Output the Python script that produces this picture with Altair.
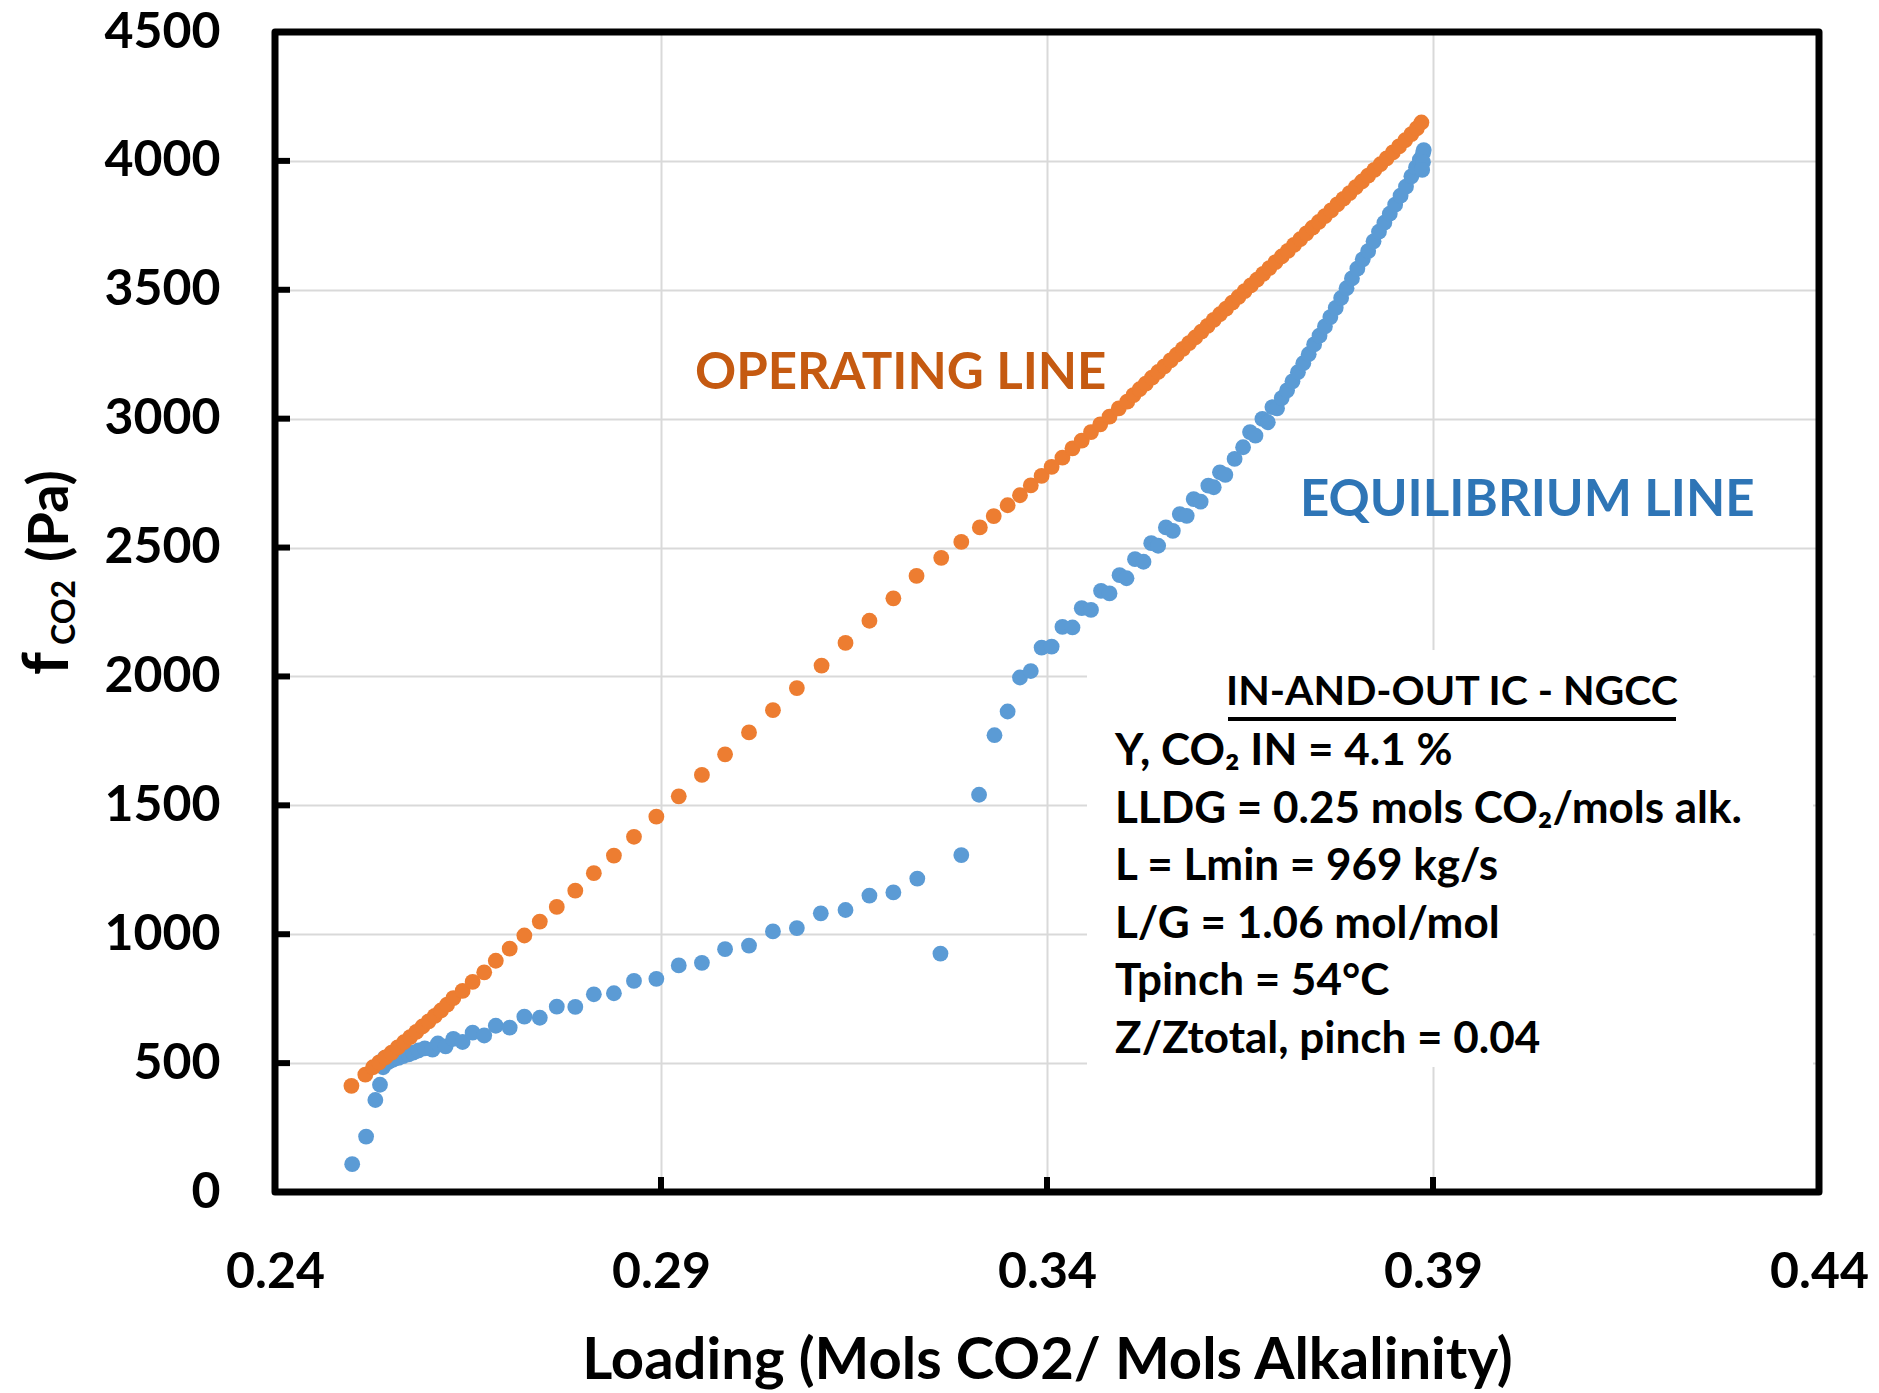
import altair as alt
import pandas as pd

# ---------------- data ----------------
op_x = [0.2499, 0.2517, 0.2527, 0.2535, 0.2543, 0.2551, 0.2559, 0.2567, 0.2575, 0.2583,
        0.2591, 0.2599, 0.2607, 0.2615, 0.2623, 0.2631, 0.2643, 0.2656, 0.2671, 0.2686,
        0.2704, 0.2723, 0.2743, 0.2765, 0.2789, 0.2813, 0.2839, 0.2865, 0.2894, 0.2923,
        0.2953, 0.2983, 0.3014, 0.3045, 0.3076, 0.3108, 0.3139, 0.3170, 0.3201, 0.3231,
        0.3263, 0.3289, 0.3313, 0.3331, 0.3349, 0.3365, 0.3379, 0.3393, 0.3406, 0.3420,
        0.3433, 0.3445, 0.3457, 0.3469, 0.3481, 0.3493, 0.3504,
        0.3512, 0.3520, 0.3528, 0.3536, 0.3544, 0.3552, 0.3560, 0.3568, 0.3576, 0.3584,
        0.3592, 0.3600, 0.3608, 0.3616, 0.3624, 0.3632, 0.3640, 0.3648, 0.3656, 0.3664,
        0.3672, 0.3680, 0.3688, 0.3696, 0.3704, 0.3712, 0.3720, 0.3728, 0.3736, 0.3744,
        0.3752, 0.3760, 0.3768, 0.3776, 0.3784, 0.3792, 0.3800, 0.3808, 0.3816, 0.3824,
        0.3832, 0.3840, 0.3848, 0.3856, 0.3864, 0.3872, 0.3879, 0.3885]
op_y = [412, 455, 484, 503, 522, 541, 561, 581, 601, 621,
        642, 662, 683, 704, 727, 752, 780, 815, 852, 897,
        944, 995, 1049, 1106, 1169, 1237, 1305, 1378, 1456, 1535,
        1618, 1698, 1783, 1869, 1955, 2042, 2130, 2216, 2303, 2390,
        2460, 2522, 2578, 2622, 2664, 2703, 2741, 2778, 2813, 2849,
        2885, 2915, 2948, 2978, 3008, 3040, 3066,
        3091, 3114, 3136, 3159, 3181, 3203, 3226, 3248, 3271, 3293,
        3315, 3338, 3360, 3383, 3405, 3427, 3450, 3472, 3495, 3517,
        3539, 3562, 3584, 3607, 3629, 3651, 3674, 3696, 3719, 3741,
        3763, 3786, 3808, 3831, 3853, 3875, 3898, 3920, 3943, 3965,
        3987, 4010, 4033, 4056, 4080, 4104, 4126, 4149]

eq_x = [0.2500, 0.2518, 0.2530, 0.2536, 0.2540, 0.2542, 0.2547, 0.2553, 0.2560, 0.2566,
        0.2573, 0.2579, 0.2586, 0.2594, 0.2604, 0.2611, 0.2621, 0.2631, 0.2643, 0.2656,
        0.2671, 0.2686, 0.2704, 0.2723, 0.2743, 0.2765, 0.2789, 0.2813, 0.2839, 0.2865,
        0.2894, 0.2923, 0.2953, 0.2983, 0.3014, 0.3045, 0.3076, 0.3107, 0.3139, 0.3170,
        0.3201, 0.3232, 0.3262, 0.3289, 0.3312, 0.3332, 0.3349, 0.3365, 0.3379, 0.3393,
        0.3406, 0.3420, 0.3433, 0.3445, 0.3457, 0.3470, 0.3481, 0.3494, 0.3503, 0.3514,
        0.3525, 0.3535, 0.3544, 0.3554, 0.3563, 0.3572, 0.3581, 0.3590, 0.3599, 0.3609,
        0.3616, 0.3624, 0.3631, 0.3643, 0.3654, 0.3663, 0.3670, 0.3679, 0.3686, 0.3692,
        0.3698, 0.3704, 0.3711, 0.3718, 0.3725, 0.3732, 0.3739, 0.3746, 0.3753, 0.3760,
        0.3767, 0.3774, 0.3781, 0.3788, 0.3795, 0.3802, 0.3809, 0.3816, 0.3823, 0.3830,
        0.3837, 0.3844, 0.3851, 0.3858, 0.3865, 0.3872, 0.3878, 0.3883, 0.3887, 0.3888,
        0.3887, 0.3886]
eq_y = [108, 215, 357, 416, 484, 519, 505, 513, 520, 527,
        534, 541, 549, 557, 552, 576, 565, 594, 582, 618,
        607, 645, 638, 680, 676, 719, 718, 767, 771, 819,
        827, 879, 889, 942, 956, 1011, 1024, 1081, 1094, 1150,
        1162, 1216, 925, 1307, 1541, 1772, 1864, 1996, 2021, 2112,
        2116, 2192, 2190, 2265, 2258, 2332, 2322, 2393, 2381, 2455,
        2445, 2517, 2507, 2578, 2565, 2630, 2623, 2688, 2678, 2740,
        2734, 2792, 2782, 2844, 2889, 2948, 2934, 2999, 2986, 3045,
        3040, 3080, 3110, 3145, 3180, 3215, 3250, 3288, 3322, 3358,
        3394, 3430, 3468, 3506, 3544, 3582, 3618, 3650, 3688, 3725,
        3760, 3795, 3830, 3865, 3900, 3940, 3975, 4005, 4030, 4042,
        3995, 3965]

x_ticks = [0.24, 0.29, 0.34, 0.39, 0.44]
y_ticks = [0, 500, 1000, 1500, 2000, 2500, 3000, 3500, 4000, 4500]

info_title = "IN-AND-OUT IC - NGCC"
info_lines = [
    "Y, CO\u2082 IN = 4.1 %",
    "LLDG = 0.25 mols CO\u2082/mols alk.",
    "L = Lmin = 969 kg/s",
    "L/G = 1.06 mol/mol",
    "Tpinch = 54\u00b0C",
    "Z/Ztotal, pinch = 0.04",
]

# ---------------- chart ----------------
W, H = 1544, 1160
FONT = "Lato"
ORANGE = "#ED7D31"
BLUE = "#5B9BD5"
GRID = "#D9D9D9"

xs = alt.Scale(domain=[0.24, 0.44], nice=False, zero=False)
ys = alt.Scale(domain=[0, 4500], nice=False, zero=False)

eq_df = pd.DataFrame({"loading": eq_x, "f": eq_y})
op_df = pd.DataFrame({"loading": op_x, "f": op_y})
xt_df = pd.DataFrame({"loading": x_ticks})
yt_df = pd.DataFrame({"f": y_ticks})
one = pd.DataFrame({"k": [0]})

x_axis = alt.Axis(values=x_ticks, format=".2f", grid=True, gridColor=GRID, gridWidth=2,
                  ticks=False, domain=False, labelFont=FONT, labelFontSize=50,
                  labelFontWeight="bold", labelColor="black", labelPadding=55,
                  labelFlush=False, labelOverlap=False,
                  title="Loading (Mols CO2/ Mols Alkalinity)", titleFont=FONT,
                  titleFontSize=58, titleFontWeight="bold", titleColor="black",
                  titlePadding=35)
y_axis = alt.Axis(values=y_ticks, format="d", grid=True, gridColor=GRID, gridWidth=2,
                  ticks=False, domain=False, labelFont=FONT, labelFontSize=50,
                  labelFontWeight="bold", labelColor="black", labelPadding=55,
                  labelFlush=False, labelOverlap=False, title=None)

X = alt.X("loading:Q", scale=xs, axis=x_axis)
Y = alt.Y("f:Q", scale=ys, axis=y_axis)

eq_pts = alt.Chart(eq_df).mark_circle(size=250, opacity=1, color=BLUE).encode(x=X, y=Y)
op_pts = alt.Chart(op_df).mark_circle(size=250, opacity=1, color=ORANGE).encode(x=X, y=Y)

xt = alt.Chart(xt_df).mark_rule(color="black", strokeWidth=6).encode(
    x=X, y=alt.value(H), y2=alt.value(H - 15))
yt = alt.Chart(yt_df).mark_rule(color="black", strokeWidth=6).encode(
    y=Y, x=alt.value(0), x2=alt.value(15))

box = alt.Chart(one).mark_rect(color="white").encode(
    x=alt.value(812), x2=alt.value(1538), y=alt.value(618), y2=alt.value(1035))

frame = alt.Chart(one).mark_rect(filled=False, stroke="black", strokeWidth=7,
                                 strokeJoin="round").encode(
    x=alt.value(0), x2=alt.value(W), y=alt.value(0), y2=alt.value(H))

def txt(s, x, y, size, color="black", align="left", angle=0, baseline="middle"):
    m = dict(text=s, font=FONT, fontSize=size, fontWeight="bold", color=color,
             align=align, baseline=baseline)
    if angle:
        m["angle"] = angle
    return alt.Chart(one).mark_text(**m).encode(x=alt.value(x), y=alt.value(y))

labels = [
    txt("OPERATING LINE", 420, 342, 51, "#C55A11"),
    txt("EQUILIBRIUM LINE", 1025, 469, 51, "#2E75B6"),
    txt(info_title, 1177, 661, 41, align="center"),
]
for i, line in enumerate(info_lines):
    labels.append(txt(line, 840, 720 + i * 57.5, 44))

underline = alt.Chart(one).mark_rule(color="black", strokeWidth=4).encode(
    x=alt.value(953), x2=alt.value(1401), y=alt.value(687))

ytitle = [
    txt("f", -207, 643, 64, angle=270, baseline="alphabetic"),
    txt("CO2", -200, 613, 32, angle=270, baseline="alphabetic"),
    txt("(Pa)", -207, 530, 56, angle=270, baseline="alphabetic"),
]

chart = alt.layer(eq_pts, op_pts, box, *labels, underline, *ytitle, xt, yt, frame).properties(
    width=W, height=H,
    autosize=alt.AutoSizeParams(type="none"),
    padding={"left": 275, "top": 32, "right": 60, "bottom": 201},
    background="white",
).configure_view(stroke=None)

chart.save("out.html", embed_options={"renderer": "svg", "actions": False})
